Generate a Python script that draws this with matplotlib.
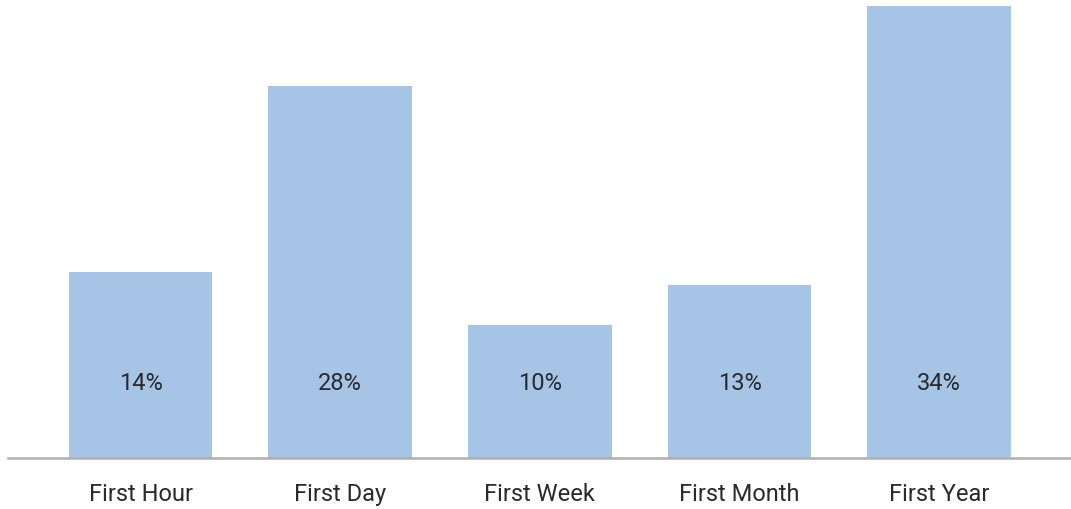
import matplotlib.pyplot as plt
from matplotlib.transforms import blended_transform_factory

categories = ["First Hour", "First Day", "First Week", "First Month", "First Year"]
shares = [14, 28, 10, 13, 34]
labels = ["14%", "28%", "10%", "13%", "34%"]

plt.rcParams['font.family'] = ['Roboto', 'DejaVu Sans']

fig = plt.figure(figsize=(10.71, 5.10), dpi=100)
ax = fig.add_axes([8 / 1071, 51 / 510, 1063 / 1071, 452 / 510])

x = range(len(categories))
ax.bar(x, shares, width=0.72, color='#a6c5e6')

trans = blended_transform_factory(ax.transData, ax.transAxes)
for i, lab in enumerate(labels):
    ax.text(i, 0.168, lab, transform=trans, ha='center', va='center',
            fontsize=17, color='#2a2a2a')

ax.set_xlim(-0.664, 4.66)
ax.set_ylim(0, 34)
ax.set_xticks(list(x))
ax.set_xticklabels(categories, fontsize=17, color='#2a2a2a')
ax.tick_params(axis='x', length=0, pad=17)
ax.set_yticks([])
for s in ['top', 'right', 'left']:
    ax.spines[s].set_visible(False)
ax.spines['bottom'].set_color('#b0b0b0')
ax.spines['bottom'].set_linewidth(1.8)

fig.savefig('out.png', dpi=100)
